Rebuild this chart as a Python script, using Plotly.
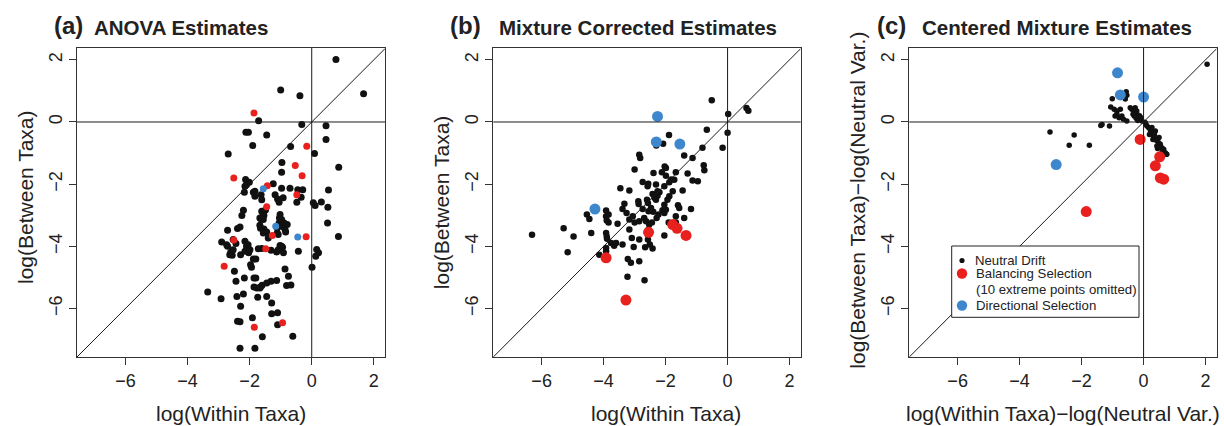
import plotly.graph_objects as go

# ---------------- data ----------------
# Panel (a) ANOVA estimates
a_black_x = [0.78, -1.0, -0.38, 1.67, -1.71, -0.32, 0.46, -2.12, -2.04, -1.45, 0.46, -1.90, -0.68, -2.69, 0.09,
             -0.96, 0.87, -0.97, -2.13, -2.01, -2.10, -2.15, -1.24, -0.97, -0.70, -0.45, -0.29, 0.54, -2.17, -1.88,
             -1.83, -1.63, -1.18, -1.10, -0.34, -0.48, -1.05, 0.05, 0.11, 0.31, 0.52, -2.20, -2.25, -1.58, -1.49,
             -1.54, -1.63, -1.04, -1.05, -0.89, 0.51, -1.67, -1.65, -1.54, -1.11, -0.95, -2.39, -2.31, -2.71, -1.45,
             -1.11, -0.84, -1.40, 0.86, -2.90, -2.71, -2.61, -2.56, -2.15, -2.10, -2.29, -2.03, -1.61, -1.31, -1.13,
             -1.02, -0.94, -0.91, -0.43, 0.16, 0.22, 0.13, -1.88, -1.80, -1.97, -1.94, 0.01, -0.86, -2.49, -2.44,
             -2.17, -1.86, -1.80, -1.86, -1.77, -1.65, -1.60, -1.31, -1.13, -0.75, -0.81, -0.67, -3.35, -2.92, -2.41,
             -2.20, -1.74, -1.45, -1.29, -2.29, -1.91, -2.39, -2.31, -1.29, -1.10, -1.10, -1.59, -0.61, -2.31, -1.83,
             -1.83, -0.92, -1.61, -1.61, -1.56, -1.67, -1.56, -1.02, -0.97, -0.92, -0.86, -0.79, -1.56, -1.08, -2.74,
             -2.53, -2.44, -2.05, -1.99, -2.15, -2.53, -2.64, -1.72, -1.08, -0.97, -1.67, -1.45]
a_black_y = [2.01, 1.03, 0.84, 0.91, 0.04, -0.08, -0.12, -0.33, -0.33, -0.42, -0.56, -0.76, -0.79, -1.03, -1.01,
             -1.30, -1.46, -1.62, -1.85, -1.94, -2.02, -2.07, -1.99, -2.13, -2.13, -2.18, -2.18, -2.19, -2.26, -2.26,
             -2.39, -2.34, -2.34, -2.48, -2.42, -2.58, -2.58, -2.60, -2.69, -2.57, -2.74, -2.84, -3.01, -2.88, -2.83,
             -3.01, -3.12, -3.09, -3.25, -3.25, -3.25, -3.32, -3.42, -3.44, -3.41, -3.35, -3.43, -3.38, -3.48, -3.54,
             -3.57, -3.54, -3.73, -3.68, -3.86, -4.00, -4.19, -4.29, -3.84, -4.00, -4.27, -4.21, -4.07, -4.13, -4.18,
             -3.97, -4.03, -4.21, -4.16, -4.10, -4.21, -4.32, -4.41, -4.41, -4.59, -4.67, -4.67, -4.73, -4.80, -5.12,
             -5.02, -5.02, -5.02, -5.31, -5.34, -5.31, -5.25, -5.12, -5.10, -4.96, -5.26, -5.24, -5.47, -5.69, -5.61,
             -5.53, -5.64, -5.61, -5.82, -5.93, -6.30, -6.41, -6.43, -6.17, -6.14, -6.52, -6.91, -6.89, -7.28, -7.28,
             -2.23, -2.44, -2.50, -2.87, -2.98, -3.09, -3.14, -2.98, -3.14, -3.36, -3.46, -3.30, -3.57, -3.62, -3.95,
             -3.78, -3.91, -3.95, -4.11, -4.16, -4.11, -4.27, -4.08, -4.11, -4.00, -5.34, -5.18]
a_red_x = [-1.86, -0.16, -0.53, -0.31, -2.51, -1.43, -0.48, -1.45, -2.51, -1.27, -0.18, -1.48, -2.82, -1.85, -0.94]
a_red_y = [0.29, -0.78, -1.40, -1.73, -1.80, -2.05, -2.34, -2.73, -3.80, -3.65, -3.69, -4.08, -4.64, -6.60, -6.46]
a_blue_x = [-1.56, -1.16, -0.45]
a_blue_y = [-2.15, -3.35, -3.70]

# Panel (b) mixture corrected estimates
b_black_x = [-0.51, 0.02, 0.61, 0.67, -0.67, 0.00, -1.89, -2.30, -2.08, -0.16, -0.81, -1.40, -1.13, -2.85, -2.82,
             -0.77, -0.75, -2.03, -1.99, -3.00, -2.12, -2.39, -1.67, -1.29, -1.99, -1.82, -1.88, -1.13, -0.96, -2.74,
             -2.56, -3.46, -3.17, -2.31, -2.04, -1.45, -2.20, -2.26, -2.42, -2.31, -2.60, -2.57, -2.88, -2.87, -3.33,
             -1.94, -1.60, -1.56, -1.18, -3.39, -3.26, -2.74, -2.55, -2.40, -2.10, -2.04, -2.23, -2.29, -3.92, -3.84,
             -4.54, -4.46, -3.92, -3.90, -3.84, -3.55, -3.17, -3.06, -3.00, -2.85, -2.69, -2.63, -2.53, -2.44, -1.90,
             -1.67, -1.40, -1.67, -5.29, -6.31, -4.97, -4.40, -3.92, -3.90, -3.89, -3.76, -3.66, -3.60, -3.39, -3.17,
             -3.09, -2.85, -3.03, -2.57, -2.51, -2.66, -2.42, -2.04, -5.16, -4.14, -3.92, -3.92, -3.22, -3.12, -2.85,
             -3.23, -2.68, -2.55, -1.72, -2.58, -2.26, -2.36, -1.77, -1.88, -2.04, -1.99, -2.47]
b_black_y = [0.70, 0.26, 0.45, 0.36, -0.25, -0.35, -0.42, -0.76, -0.70, -0.83, -0.83, -1.08, -1.16, -1.05, -1.16,
             -1.39, -1.55, -1.43, -1.48, -1.53, -1.62, -1.64, -1.62, -1.66, -1.73, -1.85, -1.94, -1.88, -1.91, -1.93,
             -1.99, -2.13, -2.20, -2.01, -2.07, -2.20, -2.26, -2.37, -2.32, -2.50, -2.50, -2.61, -2.55, -2.64, -2.63,
             -2.50, -2.68, -2.77, -2.80, -2.80, -2.93, -2.80, -2.87, -2.89, -2.84, -2.93, -2.98, -3.09, -2.85, -2.98,
             -2.98, -3.12, -3.03, -3.17, -3.23, -3.27, -3.14, -3.03, -3.23, -3.19, -3.09, -3.19, -3.30, -3.23, -3.23,
             -3.03, -3.09, -3.23, -3.42, -3.63, -3.68, -3.57, -3.57, -3.68, -3.76, -3.89, -3.98, -3.89, -3.94, -3.46,
             -3.73, -3.78, -4.02, -3.78, -3.94, -4.03, -4.07, -3.65, -4.19, -4.27, -4.05, -4.16, -4.41, -4.53, -4.48,
             -4.98, -5.09, -3.46, -1.86, -2.07, -2.23, -2.44, -2.23, -2.39, -2.66, -2.82, -2.77]
b_red_x = [-3.92, -3.28, -2.55, -1.77, -1.63, -1.34]
b_red_y = [-4.37, -5.73, -3.55, -3.30, -3.42, -3.65]
b_blue_x = [-2.26, -2.30, -1.54, -4.28]
b_blue_y = [0.18, -0.64, -0.71, -2.80]

# Panel (c) centered mixture estimates
c_black_x = [2.05, -0.56, -0.54, -0.59, -1.01, -1.06, -0.95, -0.86, -0.75, -0.92, -0.79, -0.65, -0.54, -0.38, -0.32,
             -0.27, -0.22, -0.43, -0.27, -0.34, -0.21, -0.30, -0.16, -0.24, -0.11, -0.19, -0.05, -0.70, -0.86, -1.38,
             -1.10, -1.34, -3.02, -2.24, -2.40, -1.75, 0.05, 0.11, 0.16, 0.22, 0.27, 0.19, 0.32, 0.38, 0.30, 0.43,
             0.49, 0.54, 0.43, 0.59, 0.65, 0.70, 0.73, 0.38, 0.27, 0.43, 0.67, 0.75, 0.08, 0.35, 0.50, 0.60, 0.45,
             -0.13, -0.08]
c_black_y = [1.86, 0.97, 0.86, 0.74, 0.75, 0.48, 0.41, 0.35, 0.41, 0.19, 0.14, 0.09, 0.03, 0.41, 0.35,
             0.46, 0.35, 0.46, 0.30, 0.25, 0.25, 0.19, 0.16, 0.12, 0.09, 0.05, 0.03, 0.19, 0.25, -0.11,
             -0.13, -0.08, -0.32, -0.42, -0.75, -0.75, -0.02, -0.13, -0.18, -0.27, -0.34, -0.40, -0.45, -0.53, -0.56, -0.61,
             -0.67, -0.72, -0.77, -0.83, -0.88, -0.99, -1.04, -0.29, -0.18, -1.45, -1.80, -1.04, -0.08, -0.40, -0.50, -0.95, -0.85,
             0.20, 0.14]
c_red_x = [-0.11, 0.52, 0.38, 0.54, 0.65, -1.85]
c_red_y = [-0.56, -1.12, -1.41, -1.80, -1.84, -2.88]
c_blue_x = [-0.84, -0.75, 0.00, -2.82]
c_blue_y = [1.58, 0.87, 0.80, -1.37]

x_range = [-7.56, 2.36]
y_range = [-7.56, 2.38]
tick_vals = [-6, -4, -2, 0, 2]
tick_text = ["\u22126", "\u22124", "\u22122", "0", "2"]

panel_titles = ["ANOVA Estimates", "Mixture Corrected Estimates", "Centered Mixture Estimates"]
panel_tags = ["(a)", "(b)", "(c)"]
x_labels = ["log(Within Taxa)", "log(Within Taxa)", "log(Within Taxa)\u2212log(Neutral Var.)"]
y_labels = ["log(Between Taxa)", "log(Between Taxa)", "log(Between Taxa)\u2212log(Neutral Var.)"]
legend_names = ["Neutral Drift", "Balancing Selection", "Directional Selection"]
legend_note = "(10 extreme points omitted)"

# ---------------- style ----------------
W, H = 1224, 426
FONT = "Liberation Sans, Arial, sans-serif"
BLACK = "#111111"
RED = "#E8201E"
BLUE = "#3F87CC"
TXT = "#222222"

x_domains = [[77 / W, 385 / W], [493.3 / W, 800.7 / W], [909.3 / W, 1216.7 / W]]
y_domain = [1 - 357 / H, 1 - 48 / H]

fig = go.Figure()

panels = [
    (a_black_x, a_black_y, a_red_x, a_red_y, a_blue_x, a_blue_y, 7, 7),
    (b_black_x, b_black_y, b_red_x, b_red_y, b_blue_x, b_blue_y, 6.5, 11),
    (c_black_x, c_black_y, c_red_x, c_red_y, c_blue_x, c_blue_y, 5.5, 11),
]

for i, (bx, by, rx, ry, ux, uy, s_small, s_big) in enumerate(panels):
    xa = "x" if i == 0 else f"x{i+1}"
    ya = "y" if i == 0 else f"y{i+1}"
    fig.add_trace(go.Scatter(x=bx, y=by, mode="markers", xaxis=xa, yaxis=ya,
                             marker=dict(color=BLACK, size=s_small, line=dict(width=0)),
                             name=legend_names[0], showlegend=False, hoverinfo="x+y"))
    fig.add_trace(go.Scatter(x=rx, y=ry, mode="markers", xaxis=xa, yaxis=ya,
                             marker=dict(color=RED, size=s_big, line=dict(width=0)),
                             name=legend_names[1], showlegend=False, hoverinfo="x+y"))
    fig.add_trace(go.Scatter(x=ux, y=uy, mode="markers", xaxis=xa, yaxis=ya,
                             marker=dict(color=BLUE, size=s_big, line=dict(width=0)),
                             name=legend_names[2], showlegend=False, hoverinfo="x+y"))

axis_common = dict(showgrid=False, zeroline=False, showline=True, mirror=True,
                   linecolor="#333333", linewidth=1, ticks="outside", ticklen=7,
                   tickcolor="#333333", tickwidth=1, tickvals=tick_vals, ticktext=tick_text,
                   tickfont=dict(family=FONT, size=18, color=TXT))

layout_axes = {}
for i in range(3):
    sx = "" if i == 0 else str(i + 1)
    layout_axes[f"xaxis{sx}"] = dict(axis_common, domain=x_domains[i], range=x_range,
                                     anchor=f"y{sx}")
    layout_axes[f"yaxis{sx}"] = dict(axis_common, domain=y_domain, range=y_range,
                                     anchor=f"x{sx}", tickangle=-90)

shapes = []
lo = max(x_range[0], y_range[0])
hi = min(x_range[1], y_range[1])
for i in range(3):
    sx = "" if i == 0 else str(i + 1)
    line = dict(color="#1a1a1a", width=1)
    shapes.append(dict(type="line", xref=f"x{sx}", yref=f"y{sx} domain", x0=0, x1=0, y0=0, y1=1, line=line))
    shapes.append(dict(type="line", xref=f"x{sx} domain", yref=f"y{sx}", x0=0, x1=1, y0=0, y1=0, line=line))
    shapes.append(dict(type="line", xref=f"x{sx}", yref=f"y{sx}", x0=lo, y0=lo, x1=hi, y1=hi, line=line))

annotations = []
tag_x = [51.7, 448, 875]
title_x = [91.7, 496.7, 920]
xlab_x = [231, 665.8, 1062.5]
ylab_x = [25, 441.7, 856.7]
ylab_y = [197, 202.5, 200]
for i in range(3):
    annotations.append(dict(text=f"<b>{panel_tags[i]}</b>", x=tag_x[i] / W, y=1 - 26 / H,
                            xref="paper", yref="paper", xanchor="left", yanchor="middle",
                            showarrow=False, font=dict(family=FONT, size=24, color=TXT)))
    annotations.append(dict(text=f"<b>{panel_titles[i]}</b>", x=title_x[i] / W, y=1 - 27 / H,
                            xref="paper", yref="paper", xanchor="left", yanchor="middle",
                            showarrow=False, font=dict(family=FONT, size=20.5, color=TXT)))
    annotations.append(dict(text=x_labels[i], x=xlab_x[i] / W, y=1 - 413 / H,
                            xref="paper", yref="paper", xanchor="center", yanchor="middle",
                            showarrow=False, font=dict(family=FONT, size=21, color=TXT)))
    annotations.append(dict(text=y_labels[i], x=ylab_x[i] / W, y=1 - ylab_y[i] / H, textangle=-90,
                            xref="paper", yref="paper", xanchor="center", yanchor="middle",
                            showarrow=False, font=dict(family=FONT, size=21, color=TXT)))

# ---------------- legend (panel c), drawn as a boxed key ----------------
def px_x(v):
    return v / W

def px_y(v):
    return 1 - v / H

shapes.append(dict(type="rect", xref="paper", yref="paper",
                   x0=px_x(951.7), x1=px_x(1139), y0=px_y(317.3), y1=px_y(246),
                   line=dict(color="#222222", width=1), fillcolor="white", layer="above"))
key_rows = [(legend_names[0], BLACK, 2.6, 260.5), (legend_names[1], RED, 5.2, 273.5),
            (legend_names[2], BLUE, 5.2, 305.5)]
for name, col, r, yc in key_rows:
    shapes.append(dict(type="circle", xref="paper", yref="paper", layer="above",
                       x0=px_x(962 - r), x1=px_x(962 + r), y0=px_y(yc + r), y1=px_y(yc - r),
                       fillcolor=col, line=dict(width=0)))
    annotations.append(dict(text=name, x=px_x(973.5), y=px_y(yc), xref="paper", yref="paper",
                            xanchor="left", yanchor="middle", showarrow=False,
                            font=dict(family=FONT, size=13.2, color=TXT)))
annotations.append(dict(text=legend_note, x=px_x(973.5), y=px_y(289), xref="paper", yref="paper",
                        xanchor="left", yanchor="middle", showarrow=False,
                        font=dict(family=FONT, size=13.2, color=TXT)))

fig.update_layout(
    width=W, height=H, autosize=False,
    margin=dict(l=0, r=0, t=0, b=0),
    paper_bgcolor="white", plot_bgcolor="white",
    showlegend=False,
    shapes=shapes, annotations=annotations,
    **layout_axes,
)

fig.write_html("out.html")
